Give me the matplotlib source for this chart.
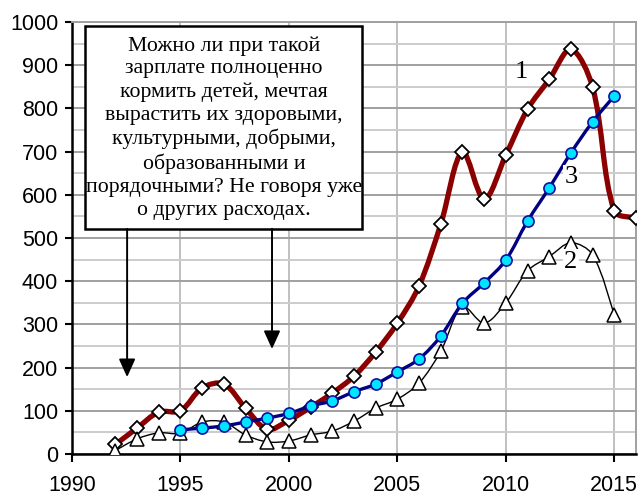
import numpy as np
import matplotlib
matplotlib.use('Agg')
import matplotlib.pyplot as plt
from matplotlib.path import Path
from matplotlib.patches import PathPatch, Rectangle

# Data
years1 = list(range(1992, 2017))
s1 = [22, 60, 97, 100, 153, 162, 106, 57, 78, 108, 141, 180, 236, 303, 389,
      532, 699, 590, 692, 798, 867, 937, 849, 562, 547]

years2 = list(range(1992, 2016))
s2 = [8, 35, 49, 48, 74, 74, 44, 28, 30, 44, 53, 76, 106, 127, 164,
      238, 341, 303, 350, 424, 457, 489, 461, 322]

years3 = list(range(1995, 2016))
s3 = [56, 60, 65, 74, 83, 94, 111, 123, 144, 162, 190, 220, 273, 349, 396,
      449, 539, 616, 697, 769, 829]

note = ("Можно ли при такой\nзарплате полноценно\nкормить детей, мечтая\n"
        "вырастить их здоровыми,\nкультурными, добрыми,\nобразованными и\n"
        "порядочными? Не говоря уже\nо других расходах.")


def smooth_path(x, y, f=1/3, sx=21.7, sy=0.432):
    # Excel-like smoothed line: cubic Bezier, tangents scaled by segment length
    p = np.column_stack([x, y]).astype(float)
    n = len(p)
    scale = np.array([sx, sy])

    def seglen(a, b):
        return np.hypot(*((p[b] - p[a]) * scale))

    verts = [p[0]]
    codes = [Path.MOVETO]
    for i in range(n - 1):
        L = seglen(i, i + 1)
        if i > 0:
            r = L / (L + seglen(i - 1, i))
            c1 = p[i] + (p[i + 1] - p[i - 1]) * r * f
        else:
            c1 = p[i] + (p[i + 1] - p[i]) * f * 0.5
        if i + 2 < n:
            r = L / (L + seglen(i + 1, i + 2))
            c2 = p[i + 1] - (p[i + 2] - p[i]) * r * f
        else:
            c2 = p[i + 1] - (p[i + 1] - p[i]) * f * 0.5
        verts += [c1, c2, p[i + 1]]
        codes += [Path.CURVE4] * 3
    return Path(verts, codes)


plt.rcParams['font.family'] = 'Liberation Sans'
fig = plt.figure(figsize=(6.39, 4.96), dpi=100)
ax = fig.add_axes([0.1127, 0.0847, 0.8826, 0.8709])

# series 1 - dark red, diamonds
ax.add_patch(PathPatch(smooth_path(years1, s1), fill=False, edgecolor='#8b0000',
                       lw=3.8, zorder=3, capstyle='round', joinstyle='round'))
ax.plot(years1, s1, ls='none', marker='D', ms=7.5, mfc='white', mec='black',
        mew=1.3, zorder=4)

# series 2 - thin black, triangles
ax.add_patch(PathPatch(smooth_path(years2, s2), fill=False, edgecolor='black',
                       lw=1.0, zorder=5))
ax.plot(years2, s2, ls='none', marker='^', ms=10, mfc='white', mec='black',
        mew=1.1, zorder=6)

# series 3 - dark blue, cyan circles
ax.add_patch(PathPatch(smooth_path(years3, s3), fill=False, edgecolor='#000080',
                       lw=2.4, zorder=7))
ax.plot(years3, s3, ls='none', marker='o', ms=8, mfc='#00e5ff', mec='#1010a0',
        mew=1.2, zorder=8)

ax.set_xlim(1990, 2016)
ax.set_ylim(0, 1000)
ax.set_xticks(range(1990, 2016, 5))
ax.set_yticks(range(0, 1001, 100))
ax.set_yticks(range(50, 1000, 100), minor=True)
ax.tick_params(axis='both', labelsize=15.5, direction='out', width=1.5, color='black')
ax.tick_params(axis='y', length=5, pad=5)
ax.tick_params(axis='x', length=6, pad=9)
ax.tick_params(axis='y', which='minor', length=0)
ax.grid(axis='y', which='major', color='#a0a0a0', lw=1.4, zorder=0)
ax.grid(axis='y', which='minor', color='#cccccc', lw=1.4, zorder=0)
ax.grid(axis='x', which='major', color='#c0c0c0', lw=1.4, zorder=0)
ax.set_axisbelow(True)
for side in ['left', 'bottom']:
    ax.spines[side].set_linewidth(1.8)
    ax.spines[side].set_color('black')
for side in ['top', 'right']:
    ax.spines[side].set_linewidth(1.4)
    ax.spines[side].set_color('#a0a0a0')

# series labels
ax.text(2010.7, 884, '1', fontsize=19, family='Liberation Serif', ha='center',
        va='center', zorder=10)
ax.text(2013.0, 641, '3', fontsize=19, family='Liberation Serif', ha='center',
        va='center', zorder=10,
        bbox=dict(facecolor='white', edgecolor='none', pad=1))
ax.text(2013.0, 445, '2', fontsize=19, family='Liberation Serif', ha='center',
        va='center', zorder=10,
        bbox=dict(facecolor='white', edgecolor='none', pad=1))

# note box
ax.add_patch(Rectangle((1990.6, 521), 12.78, 470, facecolor='white',
                       edgecolor='black', lw=1.8, zorder=11))
ax.text(1997.0, 755, note, fontsize=15.7, family='Liberation Serif', ha='center',
        va='center', linespacing=1.27, zorder=12)

# arrows
for ax_x, tip in [(1992.54, 178), (1999.22, 243)]:
    ax.annotate('', xy=(ax_x, tip), xytext=(ax_x, 521),
                arrowprops=dict(arrowstyle='-|>,head_length=0.55,head_width=0.25',
                                mutation_scale=20, color='black', lw=1.4,
                                shrinkA=0, shrinkB=0),
                zorder=12)

fig.savefig('out.png', dpi=100)
